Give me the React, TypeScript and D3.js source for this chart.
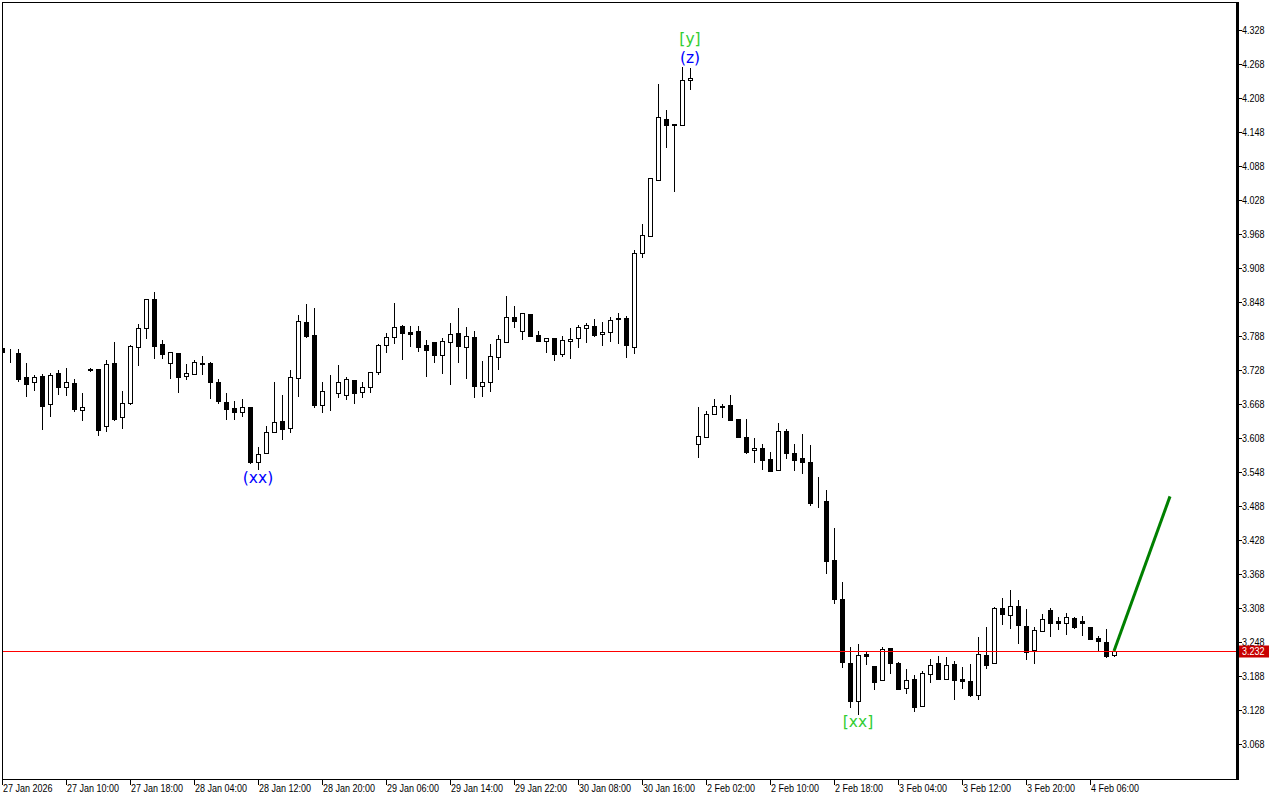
import React, { useEffect } from 'react';
import * as d3 from 'd3';

// ---- Data (H1 candles) ----
const open = [
  3.767, 3.759, 3.758, 3.716, 3.707, 3.717, 3.668, 3.723, 3.698, 3.705,
  3.658, 3.728, 3.730, 3.629, 3.740, 3.645, 3.670, 3.769, 3.802, 3.853,
  3.774, 3.740, 3.758, 3.717, 3.721, 3.740, 3.740, 3.707, 3.672, 3.661,
  3.654, 3.663, 3.566, 3.582, 3.619, 3.638, 3.626, 3.714, 3.813, 3.790,
  3.666, 3.689, 3.687, 3.684, 3.710, 3.689, 3.698, 3.724, 3.772, 3.786,
  3.806, 3.795, 3.797, 3.772, 3.777, 3.754, 3.777, 3.793, 3.769, 3.786,
  3.700, 3.707, 3.751, 3.777, 3.822, 3.797, 3.827, 3.790, 3.779, 3.784,
  3.756, 3.779, 3.784, 3.802, 3.806, 3.792, 3.795, 3.819, 3.820, 3.769,
  3.934, 3.964, 4.063, 4.171, 4.162, 4.160, 4.240, 3.597, 3.610, 3.650,
  3.664, 3.666, 3.642, 3.610, 3.587, 3.591, 3.571, 3.552, 3.620, 3.582,
  3.573, 3.566, 3.497, 3.497, 3.393, 3.324, 3.211, 3.144, 3.227, 3.206,
  3.181, 3.237, 3.211, 3.167, 3.183, 3.135, 3.192, 3.211, 3.183, 3.209,
  3.183, 3.179, 3.154, 3.225, 3.211, 3.308, 3.296, 3.312, 3.276, 3.234,
  3.267, 3.304, 3.285, 3.281, 3.290, 3.285, 3.274, 3.255, 3.248, 3.225,
];
const high = [
  3.769, 3.765, 3.765, 3.740, 3.719, 3.721, 3.723, 3.728, 3.732, 3.712,
  3.687, 3.731, 3.730, 3.746, 3.777, 3.691, 3.772, 3.809, 3.853, 3.866,
  3.781, 3.760, 3.758, 3.739, 3.746, 3.753, 3.742, 3.712, 3.687, 3.673,
  3.677, 3.663, 3.592, 3.629, 3.707, 3.684, 3.728, 3.825, 3.844, 3.837,
  3.707, 3.719, 3.737, 3.716, 3.710, 3.707, 3.724, 3.774, 3.793, 3.846,
  3.807, 3.806, 3.806, 3.781, 3.777, 3.784, 3.811, 3.837, 3.804, 3.797,
  3.744, 3.774, 3.790, 3.859, 3.841, 3.829, 3.827, 3.797, 3.784, 3.784,
  3.788, 3.802, 3.807, 3.811, 3.818, 3.813, 3.822, 3.829, 3.823, 3.940,
  3.986, 4.067, 4.233, 4.187, 4.162, 4.263, 4.261, 3.663, 3.656, 3.677,
  3.668, 3.684, 3.642, 3.642, 3.608, 3.597, 3.583, 3.634, 3.624, 3.597,
  3.615, 3.596, 3.539, 3.516, 3.449, 3.354, 3.239, 3.244, 3.232, 3.206,
  3.239, 3.237, 3.213, 3.200, 3.190, 3.197, 3.218, 3.223, 3.221, 3.214,
  3.204, 3.209, 3.257, 3.274, 3.310, 3.326, 3.340, 3.322, 3.306, 3.274,
  3.297, 3.308, 3.292, 3.299, 3.292, 3.294, 3.274, 3.258, 3.271, 3.232,
];
const low = [
  3.758, 3.742, 3.709, 3.682, 3.693, 3.624, 3.647, 3.686, 3.684, 3.656,
  3.640, 3.727, 3.613, 3.620, 3.640, 3.626, 3.668, 3.737, 3.784, 3.749,
  3.749, 3.714, 3.689, 3.712, 3.721, 3.721, 3.679, 3.670, 3.642, 3.642,
  3.647, 3.564, 3.553, 3.582, 3.619, 3.606, 3.619, 3.682, 3.786, 3.663,
  3.654, 3.657, 3.680, 3.677, 3.670, 3.680, 3.689, 3.721, 3.760, 3.776,
  3.747, 3.770, 3.762, 3.717, 3.742, 3.723, 3.703, 3.742, 3.714, 3.680,
  3.682, 3.691, 3.730, 3.777, 3.804, 3.783, 3.788, 3.779, 3.760, 3.746,
  3.753, 3.749, 3.769, 3.777, 3.788, 3.772, 3.779, 3.776, 3.751, 3.758,
  3.927, 3.964, 4.063, 4.122, 4.044, 4.160, 4.224, 3.574, 3.610, 3.650,
  3.645, 3.640, 3.610, 3.582, 3.566, 3.553, 3.550, 3.552, 3.573, 3.552,
  3.546, 3.490, 3.486, 3.370, 3.317, 3.204, 3.133, 3.121, 3.209, 3.165,
  3.181, 3.193, 3.165, 3.158, 3.126, 3.135, 3.177, 3.183, 3.183, 3.147,
  3.167, 3.153, 3.147, 3.202, 3.211, 3.280, 3.272, 3.246, 3.218, 3.211,
  3.267, 3.259, 3.271, 3.262, 3.272, 3.260, 3.253, 3.234, 3.221, 3.223,
];
const close = [
  3.760, 3.760, 3.712, 3.703, 3.716, 3.664, 3.719, 3.698, 3.707, 3.659,
  3.662, 3.729, 3.622, 3.739, 3.642, 3.670, 3.770, 3.802, 3.853, 3.770,
  3.756, 3.760, 3.716, 3.723, 3.742, 3.738, 3.707, 3.673, 3.659, 3.654,
  3.663, 3.566, 3.580, 3.619, 3.636, 3.624, 3.716, 3.814, 3.788, 3.666,
  3.691, 3.690, 3.707, 3.712, 3.687, 3.698, 3.724, 3.772, 3.786, 3.804,
  3.793, 3.792, 3.769, 3.763, 3.754, 3.779, 3.792, 3.770, 3.788, 3.700,
  3.707, 3.753, 3.783, 3.822, 3.814, 3.829, 3.788, 3.779, 3.784, 3.756,
  3.781, 3.783, 3.804, 3.807, 3.790, 3.795, 3.816, 3.818, 3.772, 3.934,
  3.966, 4.067, 4.174, 4.160, 4.160, 4.240, 4.243, 3.611, 3.650, 3.664,
  3.662, 3.640, 3.610, 3.583, 3.591, 3.569, 3.550, 3.620, 3.582, 3.569,
  3.566, 3.493, 3.496, 3.391, 3.324, 3.213, 3.144, 3.225, 3.223, 3.177,
  3.236, 3.211, 3.165, 3.181, 3.133, 3.193, 3.207, 3.183, 3.207, 3.181,
  3.179, 3.154, 3.227, 3.207, 3.308, 3.297, 3.312, 3.278, 3.230, 3.269,
  3.289, 3.281, 3.281, 3.292, 3.274, 3.282, 3.253, 3.250, 3.223, 3.232,
];

const priceTicks = [
  4.328, 4.268, 4.208, 4.148, 4.088, 4.028, 3.968, 3.908, 3.848, 3.788, 3.728,
  3.668, 3.608, 3.548, 3.488, 3.428, 3.368, 3.308, 3.248, 3.188, 3.128, 3.068,
];
const timeLabels = [
  '27 Jan 2026', '27 Jan 10:00', '27 Jan 18:00', '28 Jan 04:00', '28 Jan 12:00',
  '28 Jan 20:00', '29 Jan 06:00', '29 Jan 14:00', '29 Jan 22:00', '30 Jan 08:00',
  '30 Jan 16:00', '2 Feb 02:00', '2 Feb 10:00', '2 Feb 18:00', '3 Feb 04:00',
  '3 Feb 12:00', '3 Feb 20:00', '4 Feb 06:00',
];
const barsPerLabel = 8;
const currentPrice = 3.232;
const projectionBars = [139, 146];
const projectionPrices = [3.232, 3.505];
const waveText = ['(xx)', '[y]', '(z)', '[xx]'];
const waveBars = [32, 86, 86, 107];
const wavePrices = [3.537, 4.312, 4.278, 3.107];
const waveColors = ['#0000ff', '#32cd32', '#0000ff', '#32cd32'];

// ---- Layout ----
const W = 1280;
const H = 800;
const left = 2;
const top = 2;
const plotRight = 1237;
const plotBottom = 779;

export default function App() {
  useEffect(() => {
    document.body.style.margin = '0';
    document.body.style.overflow = 'hidden';
  }, []);

  const x = d3.scaleLinear().domain([0, 139]).range([2, 1114]);
  const y = d3.scaleLinear().domain([3.068, 4.328]).range([744, 30]);
  const ry = (v: number) => Math.round(y(v));

  const axisFont = "'Liberation Sans', Arial, sans-serif";

  const candles = open.map((o, i) => {
    const c = close[i];
    const cx = Math.round(x(i));
    const yTop = ry(Math.max(o, c));
    const yBot = ry(Math.min(o, c));
    const bull = c >= o;
    const hY = ry(high[i]);
    const lY = ry(low[i]);
    return (
      <g key={i}>
        <line x1={cx + 0.5} x2={cx + 0.5} y1={hY} y2={lY + 1} stroke="#000" strokeWidth={1} />
        <rect
          x={cx - 1.5}
          y={yTop + 0.5}
          width={4}
          height={Math.max(yBot - yTop, 0)}
          fill={bull ? '#fff' : '#000'}
          stroke="#000"
          strokeWidth={1}
        />
      </g>
    );
  });

  const line = d3
    .line<number>()
    .x((b) => x(b))
    .y((_, k) => y(projectionPrices[k]));

  const cpY = ry(currentPrice) + 0.5;

  return (
    <svg
      width={W}
      height={H}
      style={{ position: 'absolute', left: 0, top: 0, background: '#fff' }}
    >
      <defs>
        <clipPath id="plot">
          <rect x={left} y={top} width={plotRight - left} height={plotBottom - top} />
        </clipPath>
      </defs>
      <rect x={0} y={0} width={W} height={H} fill="#fff" />

      <g clipPath="url(#plot)">
        {candles}
        <line
          x1={left}
          x2={plotRight}
          y1={cpY}
          y2={cpY}
          stroke="#ff0000"
          strokeWidth={1}
          shapeRendering="crispEdges"
        />
        <path
          d={line(projectionBars) || ''}
          fill="none"
          stroke="#008000"
          strokeWidth={3}
        />
        {waveText.map((t, k) => (
          <text
            key={t + k}
            x={x(waveBars[k])}
            y={y(wavePrices[k])}
            textAnchor="middle"
            dominantBaseline="central"
            fontFamily="'DejaVu Sans', sans-serif"
            fontSize={15.5}
            fill={waveColors[k]}
          >
            {t}
          </text>
        ))}
      </g>

      {/* frame */}
      <line x1={left + 0.5} x2={left + 0.5} y1={top} y2={plotBottom + 1} stroke="#000" />
      <line x1={left} x2={plotRight} y1={top + 0.5} y2={top + 0.5} stroke="#000" />
      <line x1={left} x2={plotRight + 1} y1={plotBottom + 0.5} y2={plotBottom + 0.5} stroke="#000" />
      <rect x={plotRight - 1} y={top} width={3} height={plotBottom - top + 1} fill="#000" />

      {/* price axis */}
      {priceTicks.map((p) => {
        const py = ry(p) + 0.5;
        return (
          <g key={p}>
            <line x1={plotRight + 2} x2={plotRight + 5} y1={py} y2={py} stroke="#000" />
            <text
              transform={`translate(${plotRight + 5},${py}) scale(0.9,1)`}
              dominantBaseline="central"
              fontFamily={axisFont}
              fontSize={10}
              fill="#000"
            >
              {p.toFixed(3)}
            </text>
          </g>
        );
      })}

      {/* current price label */}
      <rect x={plotRight + 2} y={cpY - 6} width={30} height={12} fill="#c80000" />
      <text
        transform={`translate(${plotRight + 5},${cpY}) scale(0.9,1)`}
        dominantBaseline="central"
        fontFamily={axisFont}
        fontSize={10}
        fill="#fff"
      >
        {currentPrice.toFixed(3)}
      </text>

      {/* time axis */}
      {timeLabels.map((t, k) => {
        const tx = Math.round(x(k * barsPerLabel)) + 0.5;
        return (
          <g key={t}>
            <line x1={tx} x2={tx} y1={plotBottom} y2={plotBottom + 6} stroke="#000" />
            <text
              transform={`translate(${tx + 0.5},${plotBottom + 13}) scale(0.9,1)`}
              fontFamily={axisFont}
              fontSize={10}
              fill="#000"
            >
              {t}
            </text>
          </g>
        );
      })}
    </svg>
  );
}
